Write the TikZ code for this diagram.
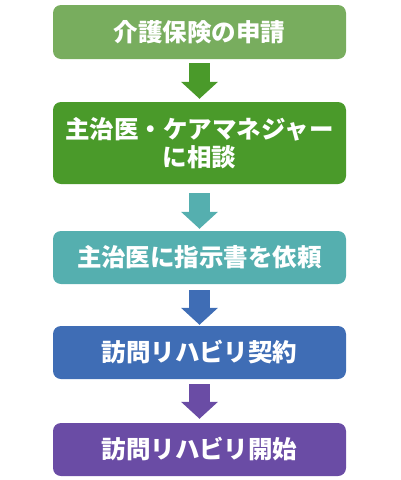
\documentclass[tikz,border=0pt]{standalone}
\usepackage{fontspec}
\setmainfont{Noto Sans CJK JP}
\usetikzlibrary{arrows.meta, positioning}
\definecolor{stepA}{HTML}{78AD5E}
\definecolor{stepB}{HTML}{4A9A2A}
\definecolor{stepC}{HTML}{55AFAF}
\definecolor{stepD}{HTML}{3F6DB5}
\definecolor{stepE}{HTML}{6A4CA5}
\tikzset{
	stepbox/.style={fill, rounded corners=8pt, minimum width=293pt, inner sep=0pt, align=center,
		text=white, font=\fontsize{24.5}{28.5}\selectfont\bfseries},
	flow/.style={line width=21pt, -{Triangle[width=36pt, length=17pt]}}
}

\begin{document}
\begin{tikzpicture}[x=1pt, y=-1pt]
		\useasboundingbox (0,0) rectangle (400,480);
		
		\node[stepbox, stepA, minimum height=54pt] (apply) at (199.5,32) {\textcolor{white}{介護保険の申請}};
		\node[stepbox, stepB, minimum height=82pt] (consult) at (199.5,143) {\textcolor{white}{主治医・ケアマネジャー}\\\textcolor{white}{に相談}};
		\node[stepbox, stepC, minimum height=53pt] (request) at (199.5,257.5) {\textcolor{white}{主治医に指示書を依頼}};
		\node[stepbox, stepD, minimum height=53pt] (contract) at (199.5,352.5) {\textcolor{white}{訪問リハビリ契約}};
		\node[stepbox, stepE, minimum height=53pt] (start) at (199.5,449.5) {\textcolor{white}{訪問リハビリ開始}};
		
		\draw[flow, stepB] ([yshift=-4pt]apply.south)    -- ([yshift=3pt]consult.north);
		\draw[flow, stepC] ([yshift=-9pt]consult.south)  -- ([yshift=2pt]request.north);
		\draw[flow, stepD] ([yshift=-6pt]request.south)  -- ([yshift=1pt]contract.north);
		\draw[flow, stepE] ([yshift=-5pt]contract.south) -- ([yshift=4pt]start.north);
	\end{tikzpicture}
\end{document}
